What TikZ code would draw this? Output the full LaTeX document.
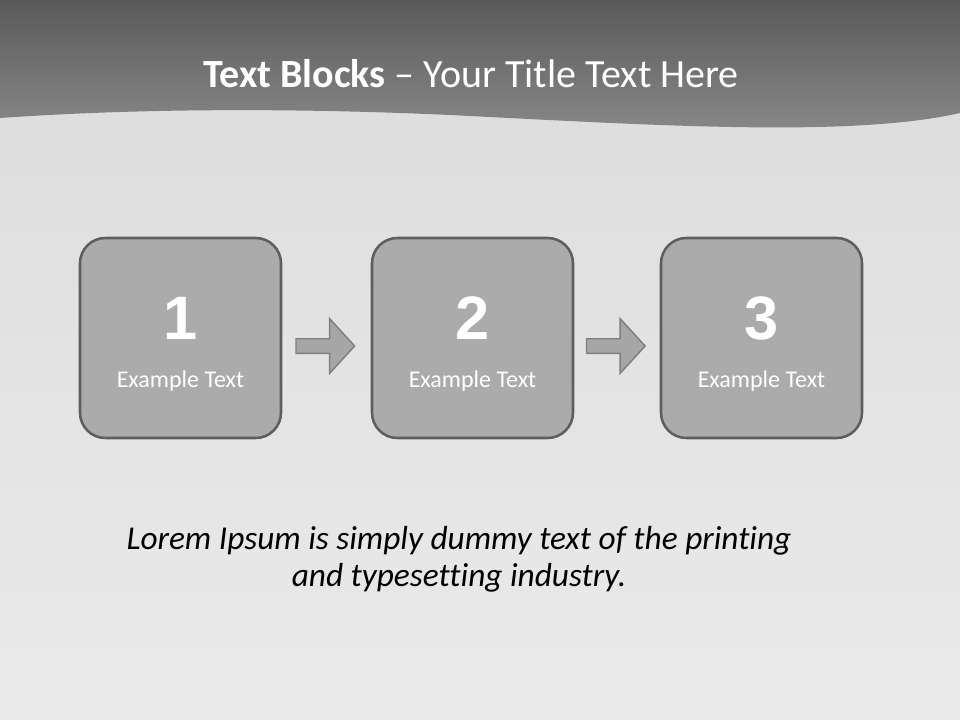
\documentclass[tikz,border=0pt]{standalone}
\usepackage{fontspec}
\setmainfont[Ligatures=NoCommon]{Carlito}
\newfontfamily\numfont{Liberation Sans}
\usetikzlibrary{shapes.arrows,calc}
\definecolor{bandtop}{HTML}{5A5A5A}
\definecolor{bandbot}{HTML}{8A8A8A}
\definecolor{paperA}{HTML}{DCDCDC}
\definecolor{paperB}{HTML}{EAEAEA}
\definecolor{boxfill}{HTML}{ABABAB}
\definecolor{boxline}{HTML}{5E5E5E}
\definecolor{arrfill}{HTML}{A6A6A6}
\definecolor{arrline}{HTML}{7F7F7F}
\tikzset{
  stepbox/.style={draw=boxline, fill=boxfill, line width=1.9pt, rounded corners=19pt,
    minimum width=150.75pt, minimum height=150pt, inner sep=0pt},
  numtext/.style={text=white, font=\numfont\bfseries\fontsize{46}{50}\selectfont},
  labtext/.style={text=white, font=\fontsize{18}{21}\selectfont},
  blockarrow/.style={single arrow, draw=arrline, fill=arrfill, line width=1.1pt,
    minimum height=44pt, inner sep=4.9pt, single arrow head extend=15pt,
    single arrow tip angle=95},
}
\begin{document}
\begin{tikzpicture}[x=0.75pt,y=-0.75pt]
\useasboundingbox (0,0) rectangle (960,720);
% paper background
\shade[top color=paperA, bottom color=paperB] (0,0) rectangle (960,720);
% title band
\shade[top color=bandtop, bottom color=bandbot]
  (0,0) -- (960,0) -- (960,113)
  .. controls (850,138) and (650,125) .. (450,115)
  .. controls (250,106) and (100,111) .. (0,118) -- cycle;
% title
\node[text=white, font=\fontsize{30}{36}\selectfont, anchor=base] (title) at (471,88)
  {\textbf{Text Blocks} – Your Title Text Here};
% boxes
\node[stepbox] (box1) at (180.5,338) {};
\node[stepbox] (box2) at (472.5,338) {};
\node[stepbox] (box3) at (761.5,338) {};
\foreach \b/\n in {box1/1, box2/2, box3/3}{
  \node[numtext] (num\n) at ([yshift=15pt]\b.center) {\n};
  \node[labtext] (lab\n) at ([yshift=-32.5pt]\b.center) {Example Text};
}
% arrows
\node[blockarrow] (arr1) at ($ (box1.east)!0.5!(box2.west) + (-4.5,8) $) {};
\node[blockarrow] (arr2) at ($ (box2.east)!0.5!(box3.west) + (-4.5,8) $) {};
% bottom text
\node[font=\itshape\fontsize{25}{28}\selectfont, align=center, text=black] (lorem) at (459,559)
  {Lorem Ipsum is simply dummy text of the printing\\ and typesetting industry.};
\end{tikzpicture}
\end{document}
